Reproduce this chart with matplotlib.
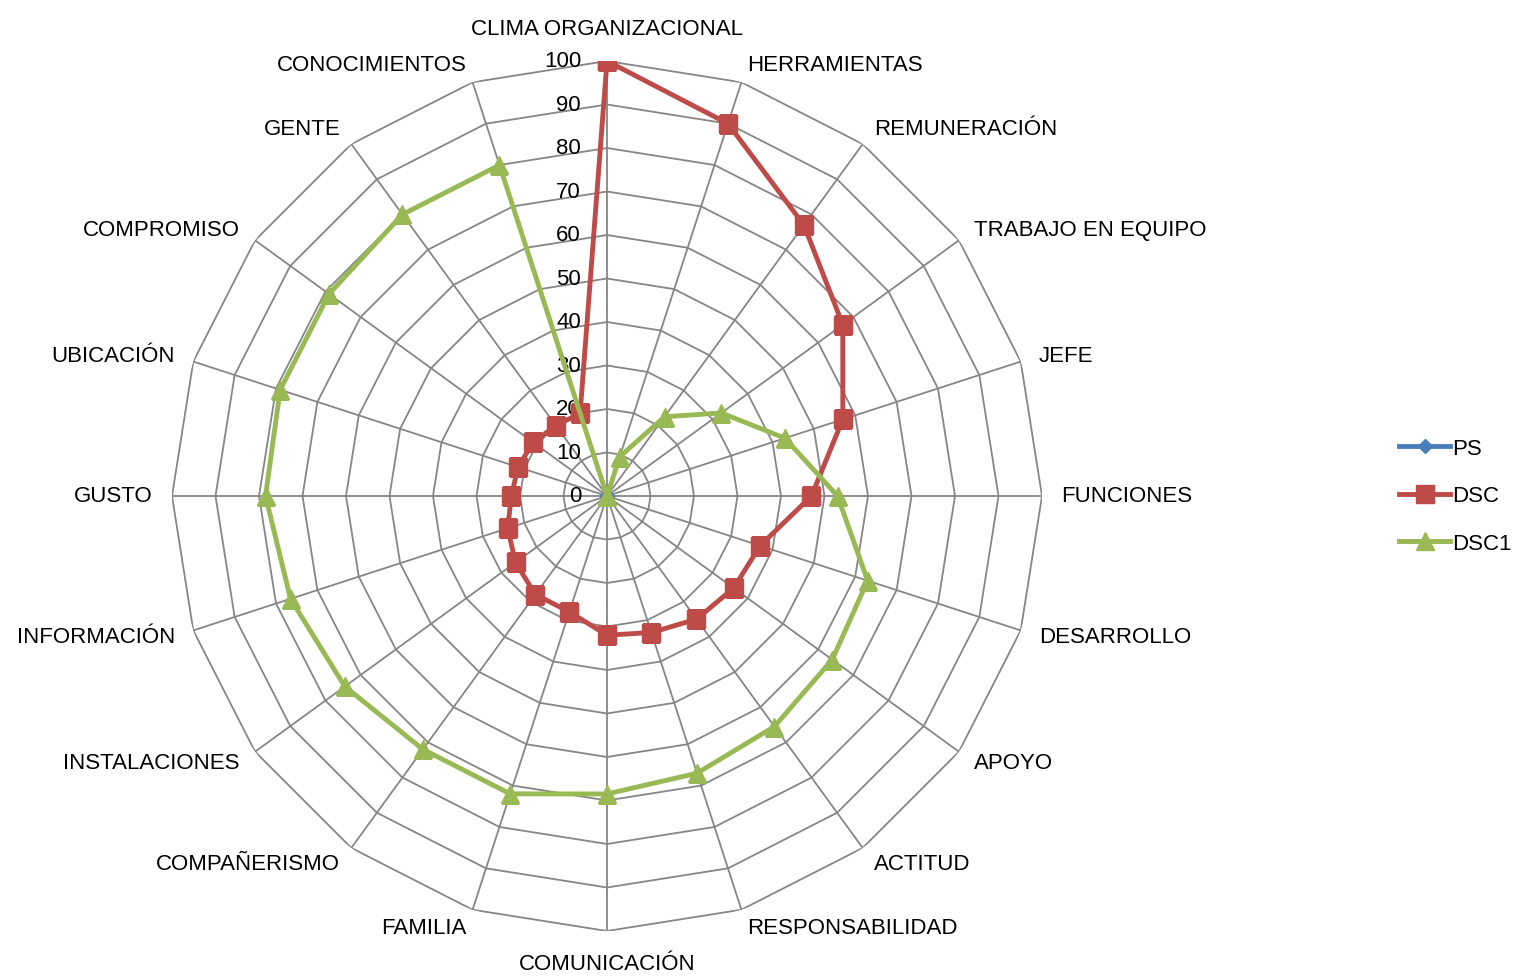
import numpy as np
import matplotlib
matplotlib.use("Agg")
import matplotlib.pyplot as plt

plt.rcParams['font.family'] = ['Liberation Sans Narrow', 'Liberation Sans', 'DejaVu Sans']

categorias = ["CLIMA ORGANIZACIONAL", "HERRAMIENTAS", "REMUNERACIÓN", "TRABAJO EN EQUIPO",
              "JEFE", "FUNCIONES", "DESARROLLO", "APOYO", "ACTITUD", "RESPONSABILIDAD",
              "COMUNICACIÓN", "FAMILIA", "COMPAÑERISMO", "INSTALACIONES", "INFORMACIÓN",
              "GUSTO", "UBICACIÓN", "COMPROMISO", "GENTE", "CONOCIMIENTOS"]

ps = [0] * 20
dsc = [100, 90, 77, 67, 57, 47, 37, 36, 35, 33, 32, 28, 28, 26, 24, 22, 21.5, 21, 20, 20]
dsc1 = [0, 9.5, 22.5, 32.5, 43, 53, 63, 64, 65.5, 67, 68.5, 72, 72, 74.5, 76.5, 78.5, 79, 79, 80, 80]
niveles = [0, 10, 20, 30, 40, 50, 60, 70, 80, 90, 100]

n = len(categorias)
ang = np.arange(n) * 2 * np.pi / n
ang_c = np.append(ang, ang[0])


def cerrar(v):
    return np.append(v, v[0])


fig = plt.figure(figsize=(15.14, 9.79), dpi=100)
cx, cy, rad = 607 / 1514, 1 - 497 / 979, 435
ax = fig.add_axes([cx - rad / 1514, cy - rad / 979, 2 * rad / 1514, 2 * rad / 979], projection='polar')
ax.set_theta_zero_location('N')
ax.set_theta_direction(-1)
ax.set_ylim(0, 100)
ax.grid(False)
ax.spines['polar'].set_visible(False)
ax.set_xticks([])
ax.set_yticks([])
ax.patch.set_visible(False)

# rejilla poligonal
gris = '#868686'
for r in niveles[1:]:
    ax.plot(ang_c, [r] * (n + 1), color=gris, lw=1.3, zorder=1)
for a in ang:
    ax.plot([a, a], [0, 100], color=gris, lw=1.3, zorder=1)

# etiquetas de escala
for r in niveles:
    ax.annotate(str(r), xy=(0, r), xytext=(-26, 0), textcoords='offset pixels',
                ha='right', va='center', fontsize=16, color='black')

# etiquetas de categorias
for a, nombre in zip(ang, categorias):
    s, c = np.sin(a), np.cos(a)
    if abs(s) < 0.05:
        ha = 'center'
        va = 'bottom' if c > 0 else 'top'
        off = (0, 22 * np.sign(c))
    else:
        ha = 'left' if s > 0 else 'right'
        va = 'center'
        off = (19 * s, 19 * c)
    ax.annotate(nombre, xy=(a, 100), xytext=off, textcoords='offset pixels',
                ha=ha, va=va, fontsize=16, color='black', annotation_clip=False)

ax.plot(ang_c, cerrar(ps), color='#4A7EBB', lw=3.5, marker='D', ms=7, label='PS', zorder=3)
ax.plot(ang_c, cerrar(dsc), color='#BE4B48', lw=3.5, marker='s', ms=13, label='DSC', zorder=4)
ax.plot(ang_c, cerrar(dsc1), color='#98B954', lw=3.5, marker='^', ms=13, label='DSC1', zorder=5)

fig.legend(loc='center left', bbox_to_anchor=(1388 / 1514, 1 - 497 / 979), frameon=False,
           fontsize=16, labelspacing=1.2, handlelength=2.3, handletextpad=0.1, borderpad=0)

fig.savefig('out.png', dpi=100)
